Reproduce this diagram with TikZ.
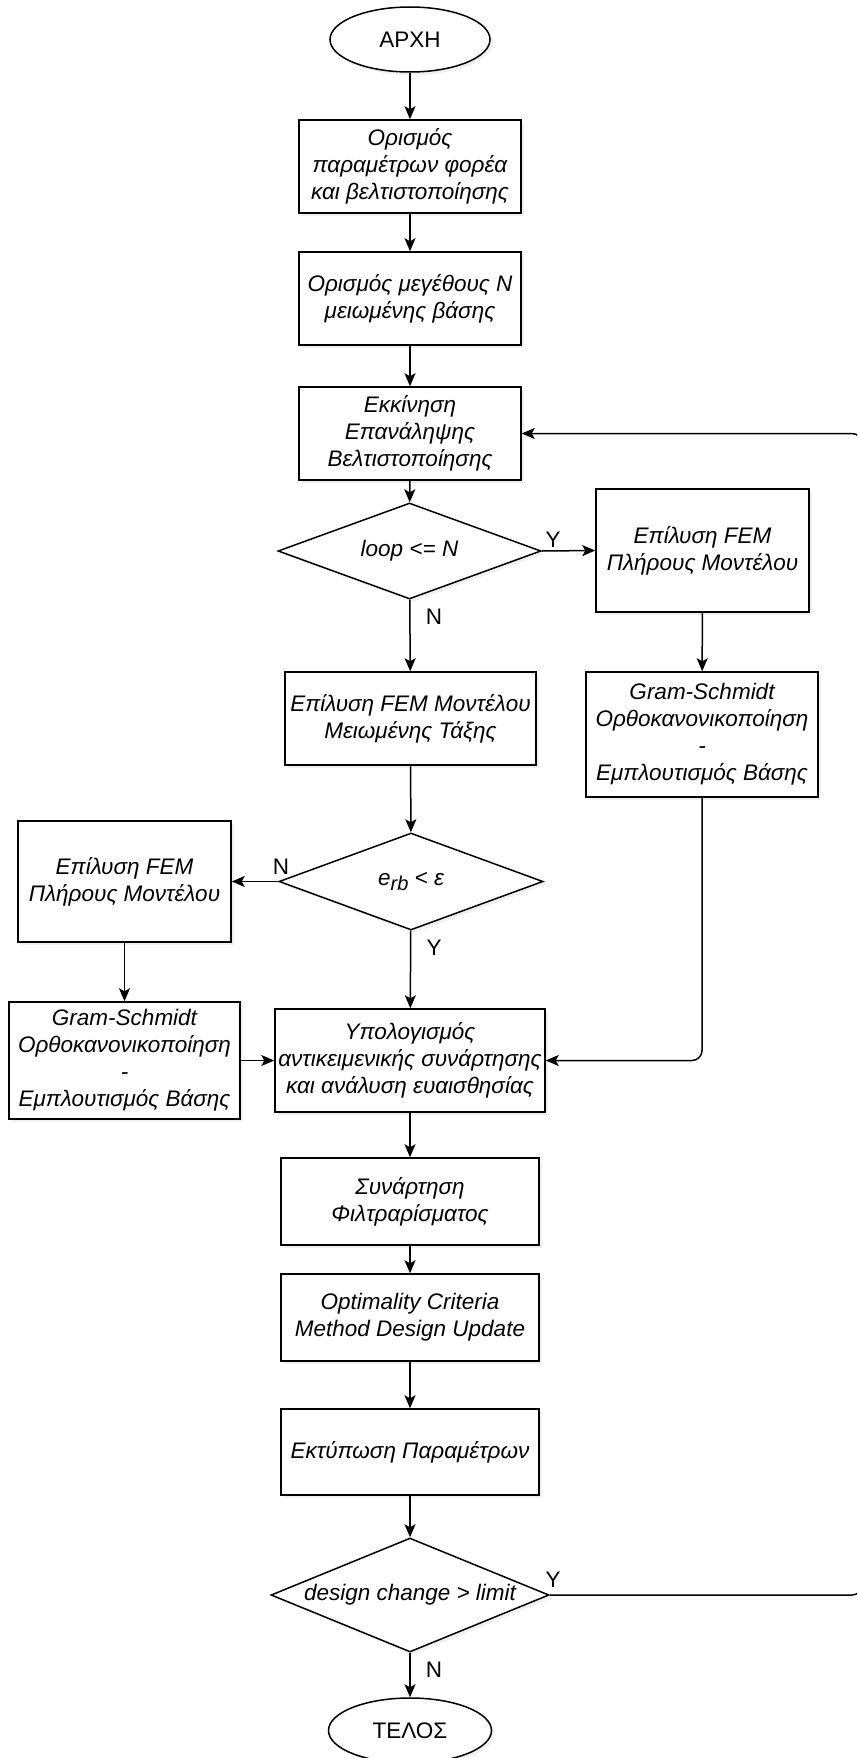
\documentclass[tikz,border=0pt]{standalone}
\usepackage{fontspec}
\setmainfont{Liberation Sans}
\usetikzlibrary{shapes.geometric,shadows,arrows.meta}

\newcommand{\flowsize}{\fontsize{22.5}{27}\selectfont}

\tikzset{
	softshadow/.style={drop shadow={opacity=0.12,shadow xshift=3pt,shadow yshift=-3pt}},
	boxstep/.style={draw, rectangle, fill=white, softshadow, align=center,
		inner sep=1pt, font=\flowsize\itshape},
	choice/.style={draw, diamond, aspect=2.9, inner sep=0pt, fill=white, softshadow,
		font=\flowsize\itshape},
	terminal/.style={draw, ellipse, inner sep=0pt, fill=white, softshadow,
		minimum width=160pt, minimum height=65pt},
	flow/.style={-{Stealth[length=13pt,width=11pt,inset=3pt]}},
}

\begin{document}
\begin{tikzpicture}[x=1pt,y=-1pt,line width=1.5pt,
	every node/.style={font=\flowsize}]
	\useasboundingbox (0,0) rectangle (857,1758);
	\clip (0,0) rectangle (857,1758);

	% main column
	\node[terminal] (start) at (410,39.5) {ΑΡΧΗ};
	\node[boxstep, minimum width=222pt, minimum height=93pt] (params) at (410,166.5)
		{Ορισμός\\παραμέτρων φορέα\\και βελτιστοποίησης};
	\node[boxstep, minimum width=222pt, minimum height=93pt] (basis) at (410,298.5)
		{Ορισμός μεγέθους Ν\\μειωμένης βάσης};
	\node[boxstep, minimum width=222pt, minimum height=93pt] (iter) at (410,433.5)
		{Εκκίνηση\\Επανάληψης\\Βελτιστοποίησης};
	\node[choice, minimum width=263pt, minimum height=96pt] (loop) at (409.5,551)
		{loop <= N};
	\node[boxstep, minimum width=251pt, minimum height=93pt] (reduced) at (410.5,718.5)
		{Επίλυση FEM Μοντέλου\\Μειωμένης Τάξης};
	\node[choice, minimum width=264pt, minimum height=97pt] (error) at (411,881.5)
		{e\raisebox{-5pt}{\fontsize{20}{20}\selectfont rb} < ε};
	\node[boxstep, minimum width=270pt, minimum height=103pt] (objective) at (410,1060.5)
		{Υπολογισμός\\αντικειμενικής συνάρτησης\\και ανάλυση ευαισθησίας};
	\node[boxstep, minimum width=258pt, minimum height=87pt] (filter) at (410,1201.5)
		{Συνάρτηση\\Φιλτραρίσματος};
	\node[boxstep, minimum width=258pt, minimum height=87pt] (update) at (410,1317.5)
		{Optimality Criteria\\Method Design Update};
	\node[boxstep, minimum width=258pt, minimum height=86pt] (print) at (410,1452)
		{Εκτύπωση Παραμέτρων};
	\node[choice, minimum width=278pt, minimum height=114pt] (change) at (410,1595)
		{design change > limit};
	\node[terminal, minimum width=163pt] (stop) at (410,1730.5) {ΤΕΛΟΣ};

	% right branch
	\node[boxstep, minimum width=213pt, minimum height=123pt] (fullR) at (702.5,550.5)
		{Επίλυση FEM\\Πλήρους Μοντέλου};
	\node[boxstep, minimum width=232pt, minimum height=125pt] (gramR) at (702,734.5)
		{Gram-Schmidt\\Ορθοκανονικοποίηση\\-\\Εμπλουτισμός Βάσης};

	% left branch
	\node[boxstep, minimum width=213pt, minimum height=121pt] (fullL) at (124.5,881.5)
		{Επίλυση FEM\\Πλήρους Μοντέλου};
	\node[boxstep, minimum width=231pt, minimum height=117pt] (gramL) at (124.5,1060.5)
		{Gram-Schmidt\\Ορθοκανονικοποίηση\\-\\Εμπλουτισμός Βάσης};

	% answers
	\node (loopY) at (553,540) {Y};
	\node (loopN) at (434,617) {N};
	\node (errorN) at (281,867) {N};
	\node (errorY) at (434,948) {Y};
	\node (changeY) at (553,1580) {Y};
	\node (changeN) at (434,1670) {N};

	% connectors
	\draw[flow] (start) -- (params);
	\draw[flow] (params) -- (basis);
	\draw[flow] (basis) -- (iter);
	\draw[flow] (iter) -- (loop);
	\draw[flow] (loop) -- (reduced);
	\draw[flow] (loop.east) -- (fullR.west);
	\draw[flow] (fullR) -- (gramR);
	\draw[flow] (reduced) -- (error);
	\draw[flow] (error.west) -- (fullL.east);
	\draw[flow] (error) -- (objective);
	\draw[flow] (fullL) -- (gramL);
	\draw[flow] (gramL) -- (objective);
	\draw[flow, rounded corners=10pt] (gramR.south) |- (objective.east);
	\draw[flow] (objective) -- (filter);
	\draw[flow] (filter) -- (update);
	\draw[flow] (update) -- (print);
	\draw[flow] (print) -- (change);
	\draw[flow] (change) -- (stop);

	% back to the start of the iteration
	\coordinate (edge) at (862,1595);
	\draw[flow, rounded corners=10pt] (change.east) -- (edge) |- (iter.east);

\end{tikzpicture}
\end{document}
